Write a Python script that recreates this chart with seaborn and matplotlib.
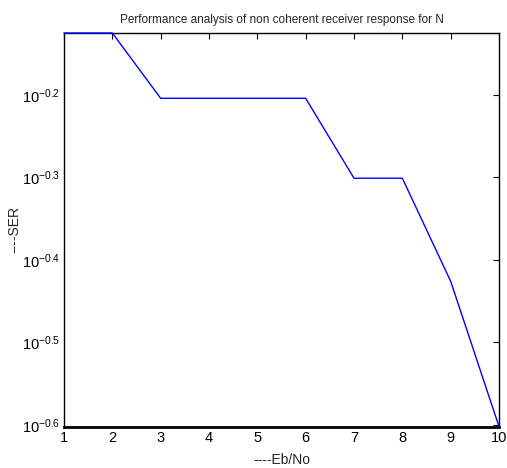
import matplotlib
matplotlib.use("Agg")
import matplotlib.pyplot as plt
import seaborn as sns
import numpy as np
import pandas as pd
from matplotlib.ticker import FixedLocator, FixedFormatter, NullLocator

ebno = [1, 2, 3, 4, 5, 6, 7, 8, 9, 10]
ser = [0.75, 0.75, 0.625, 0.625, 0.625, 0.625, 0.5, 0.5, 0.375, 0.25]
ytick_exps = [-0.6, -0.5, -0.4, -0.3, -0.2]
ytick_labels = [r"$10^{%s}$" % e for e in ytick_exps]

sns.set_style("white")
plt.rcParams["font.family"] = ["Liberation Sans", "DejaVu Sans"]
plt.rcParams["mathtext.fontset"] = "custom"
plt.rcParams["mathtext.rm"] = "Liberation Sans"
plt.rcParams["mathtext.it"] = "Liberation Sans"
plt.rcParams["mathtext.bf"] = "Liberation Sans"

fig = plt.figure(figsize=(5.07, 4.68), dpi=100)
ax = fig.add_axes([64 / 507, 1 - 426.5 / 468, (499 - 64) / 507, (426.5 - 33) / 468])

df = pd.DataFrame({"EbNo": ebno, "SER": ser})
sns.lineplot(data=df, x="EbNo", y="SER", ax=ax, color="#0000ff", linewidth=1.0)
for ln in ax.get_lines():
    ln.set_clip_on(False)
    ln.set_zorder(5)

ax.set_yscale("log")
ax.set_xlim(1, 10)
ax.set_ylim(min(ser), max(ser))
ax.set_xticks(ebno)
ax.set_xticklabels([str(v) for v in ebno])
ax.yaxis.set_major_locator(FixedLocator([10 ** e for e in ytick_exps]))
ax.yaxis.set_major_formatter(FixedFormatter(ytick_labels))
ax.yaxis.set_minor_locator(NullLocator())

ax.tick_params(axis="both", which="major", direction="in", length=4, width=0.8,
               top=True, right=True, labelsize=10.5, colors="black", pad=3)
for s in ax.spines.values():
    s.set_color("black")
    s.set_linewidth(1.0)
ax.spines["bottom"].set_linewidth(2.0)

ax.set_title("Performance analysis of non coherent receiver response for N", fontsize=8.5, pad=7)
ax.set_xlabel("----Eb/No", fontsize=10)
ax.set_ylabel("----SER", fontsize=10)
ax.xaxis.set_label_coords(0.5, -(460 - 426.5) / 393.5)
ax.xaxis.label.set_va("center")
ax.yaxis.set_label_coords(-(64 - 14) / 435, 0.5)
ax.yaxis.label.set_va("center")

fig.savefig("out.png", dpi=100)
